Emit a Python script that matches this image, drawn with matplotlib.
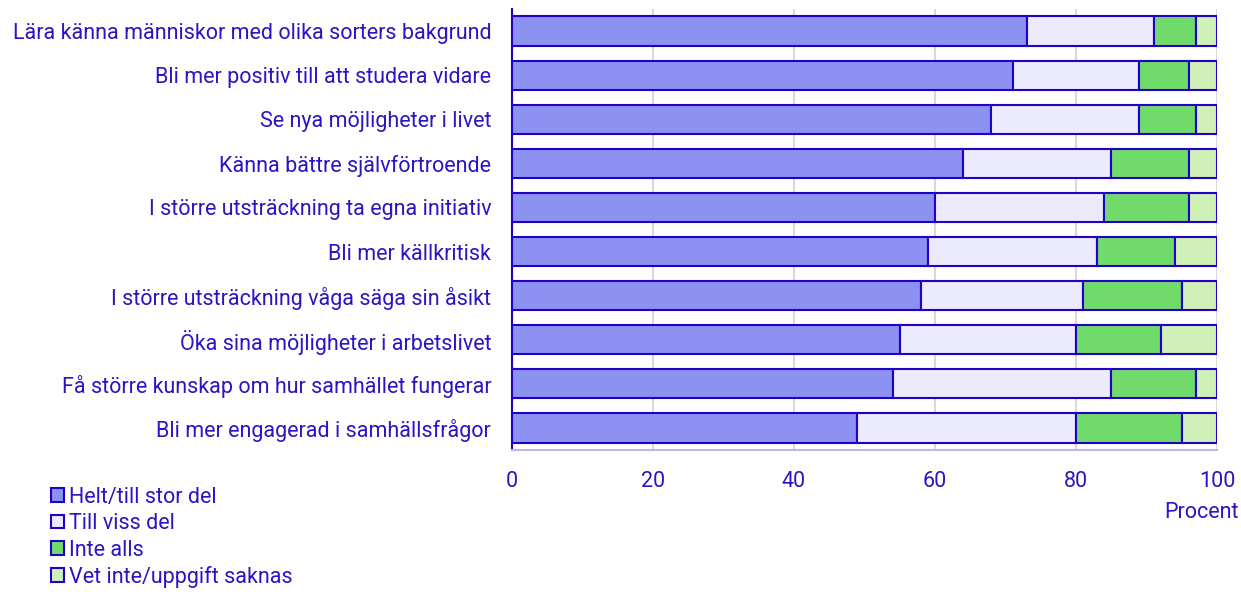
import numpy as np
import matplotlib.pyplot as plt

plt.rcParams['font.family'] = ['Roboto', 'DejaVu Sans']

categories = [
    'Lära känna människor med olika sorters bakgrund',
    'Bli mer positiv till att studera vidare',
    'Se nya möjligheter i livet',
    'Känna bättre självförtroende',
    'I större utsträckning ta egna initiativ',
    'Bli mer källkritisk',
    'I större utsträckning våga säga sin åsikt',
    'Öka sina möjligheter i arbetslivet',
    'Få större kunskap om hur samhället fungerar',
    'Bli mer engagerad i samhällsfrågor',
]
helt = [73, 71, 68, 64, 60, 59, 58, 55, 54, 49]
viss = [18, 18, 21, 21, 24, 24, 23, 25, 31, 31]
inte = [6, 7, 8, 11, 12, 11, 14, 12, 12, 15]
vet = [3, 4, 3, 4, 4, 6, 5, 8, 3, 5]
series_names = ['Helt/till stor del', 'Till viss del', 'Inte alls', 'Vet inte/uppgift saknas']
xticks = [0, 20, 40, 60, 80, 100]

colors = ['#8c91f2', '#ecebfe', '#70db6a', '#cff0b6']
edge = '#2200cc'
txt = '#2a14c4'
fs = 15.5

fig = plt.figure(figsize=(12.41, 5.98), dpi=100)
ax = fig.add_axes([512 / 1241, 1 - 450 / 598, 705 / 1241, 441 / 598])

y = np.arange(len(categories))
left = np.zeros(len(categories))
handles = []
for vals, col, name in zip([helt, viss, inte, vet], colors, series_names):
    b = ax.barh(y, vals, left=left, height=0.66, color=col, edgecolor=edge,
                linewidth=1.5, label=name, zorder=3)
    handles.append(b)
    left += np.array(vals)

ax.set_ylim(len(categories) - 0.5, -0.5)
ax.set_xlim(0, 100)
ax.set_yticks(y)
ax.set_yticklabels(categories, fontsize=fs, color=txt)
ax.set_xticks(xticks)
ax.set_xticklabels([str(t) for t in xticks], fontsize=fs, color=txt)
ax.tick_params(axis='y', length=0, pad=15)
ax.tick_params(axis='x', length=0, pad=15)
ax.grid(axis='x', color='#d9d9d9', linewidth=1.5, zorder=0)

for s in ['top', 'right']:
    ax.spines[s].set_visible(False)
ax.spines['left'].set_color(edge)
ax.spines['left'].set_linewidth(1.5)
ax.spines['bottom'].set_color('#b8b8ee')
ax.spines['bottom'].set_linewidth(1.5)

fig.text(1239 / 1241, 1 - 513 / 598, 'Procent', ha='right', va='center',
         fontsize=fs, color=txt)

leg = fig.legend(handles=handles, loc='upper left',
                 bbox_to_anchor=(40 / 1241, 1 - 476 / 598),
                 frameon=False, fontsize=fs, handlelength=0.6, handleheight=0.6,
                 handletextpad=0.25, labelspacing=0.25, borderpad=0)
for t in leg.get_texts():
    t.set_color(txt)

fig.savefig('out.png', dpi=100)
